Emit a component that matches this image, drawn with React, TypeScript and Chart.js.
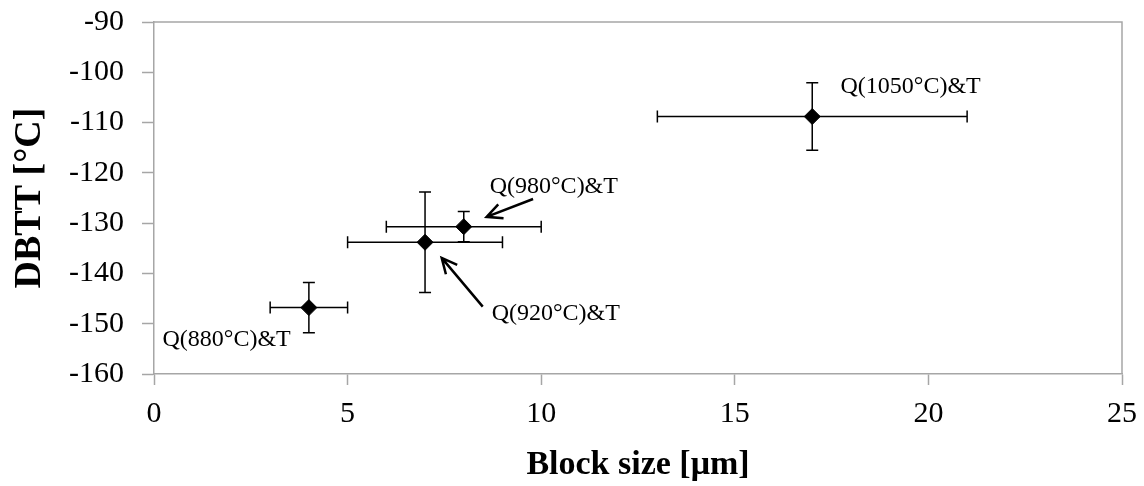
import React, { useEffect, useRef } from "react";
import { Chart, registerables } from "chart.js";

Chart.register(...registerables);

// ---- data ----
const blockSize = [4, 7, 8, 17];
const dbtt = [-146.8, -133.8, -130.7, -108.8];
const blockErr = [1, 2, 2, 4];
const dbttErr = [5, 10, 3, 6.7];

const labelTexts = ["Q(880°C)&T", "Q(920°C)&T", "Q(980°C)&T", "Q(1050°C)&T"];
const labelX = [0.22, 8.72, 8.67, 17.73];
const labelY = [-153.2, -148.1, -122.8, -102.8];

// arrows: tail -> tip
const arrowTailX = [9.79, 8.49];
const arrowTailY = [-125.2, -146.6];
const arrowTipX = [8.59, 7.43];
const arrowTipY = [-128.75, -136.9];

const xTickMin = 0;
const xTickMax = 25;
const xTickStep = 5;
const yTickMin = -160;
const yTickMax = -90;
const yTickStep = 10;

const FONT = '"Liberation Serif", "Times New Roman", serif';
const AXIS_GRAY = "#a6a6a6";

const overlayPlugin = {
  id: "overlay",
  beforeDatasetsDraw(chart: any) {
    const ctx = chart.ctx;
    const xs = chart.scales.x;
    const ys = chart.scales.y;
    ctx.save();
    ctx.strokeStyle = "#000";
    ctx.lineWidth = 1.5;
    const cap = 6;
    for (let i = 0; i < blockSize.length; i++) {
      const cx = xs.getPixelForValue(blockSize[i]);
      const cy = ys.getPixelForValue(dbtt[i]);
      const x0 = xs.getPixelForValue(blockSize[i] - blockErr[i]);
      const x1 = xs.getPixelForValue(blockSize[i] + blockErr[i]);
      const y0 = ys.getPixelForValue(dbtt[i] + dbttErr[i]);
      const y1 = ys.getPixelForValue(dbtt[i] - dbttErr[i]);
      ctx.beginPath();
      ctx.moveTo(x0, cy);
      ctx.lineTo(x1, cy);
      ctx.moveTo(x0, cy - cap);
      ctx.lineTo(x0, cy + cap);
      ctx.moveTo(x1, cy - cap);
      ctx.lineTo(x1, cy + cap);
      ctx.moveTo(cx, y0);
      ctx.lineTo(cx, y1);
      ctx.moveTo(cx - cap, y0);
      ctx.lineTo(cx + cap, y0);
      ctx.moveTo(cx - cap, y1);
      ctx.lineTo(cx + cap, y1);
      ctx.stroke();
    }
    ctx.restore();
  },
  afterDraw(chart: any) {
    const ctx = chart.ctx;
    const xs = chart.scales.x;
    const ys = chart.scales.y;
    const area = chart.chartArea;
    ctx.save();
    // top and right border of the plot area
    ctx.strokeStyle = AXIS_GRAY;
    ctx.lineWidth = 1.5;
    ctx.beginPath();
    ctx.moveTo(area.left, area.top);
    ctx.lineTo(area.right, area.top);
    ctx.lineTo(area.right, area.bottom);
    ctx.stroke();

    // point labels
    ctx.fillStyle = "#000";
    ctx.font = `24px ${FONT}`;
    ctx.textAlign = "left";
    ctx.textBaseline = "middle";
    for (let i = 0; i < labelTexts.length; i++) {
      ctx.fillText(labelTexts[i], xs.getPixelForValue(labelX[i]), ys.getPixelForValue(labelY[i]));
    }

    // arrows
    ctx.strokeStyle = "#000";
    ctx.lineWidth = 2.5;
    for (let i = 0; i < arrowTailX.length; i++) {
      const tx = xs.getPixelForValue(arrowTailX[i]);
      const ty = ys.getPixelForValue(arrowTailY[i]);
      const hx = xs.getPixelForValue(arrowTipX[i]);
      const hy = ys.getPixelForValue(arrowTipY[i]);
      const ang = Math.atan2(hy - ty, hx - tx);
      const L = 17;
      const spread = Math.PI / 7;
      ctx.beginPath();
      ctx.moveTo(tx, ty);
      ctx.lineTo(hx, hy);
      ctx.moveTo(hx - L * Math.cos(ang - spread), hy - L * Math.sin(ang - spread));
      ctx.lineTo(hx, hy);
      ctx.lineTo(hx - L * Math.cos(ang + spread), hy - L * Math.sin(ang + spread));
      ctx.stroke();
    }
    ctx.restore();
  },
};

export default function App() {
  const ref = useRef<HTMLCanvasElement | null>(null);
  useEffect(() => {
    if (!ref.current) return;
    const chart = new Chart(ref.current, {
      type: "scatter",
      data: {
        datasets: [
          {
            data: blockSize.map((x, i) => ({ x, y: dbtt[i] })),
            pointStyle: "rectRot",
            pointRadius: 8,
            pointHoverRadius: 8,
            backgroundColor: "#000",
            borderColor: "#000",
            borderWidth: 1,
          },
        ],
      },
      options: {
        animation: false,
        responsive: true,
        maintainAspectRatio: false,
        layout: { padding: { top: 22, right: 22, left: 0, bottom: 0 } },
        plugins: { legend: { display: false }, tooltip: { enabled: false } },
        scales: {
          x: {
            type: "linear",
            min: xTickMin,
            max: xTickMax,
            afterFit: (s: any) => {
              s.height = 112;
              s.paddingLeft = 0;
              s.paddingRight = 0;
            },
            ticks: {
              stepSize: xTickStep,
              color: "#000",
              padding: 11,
              font: { family: FONT, size: 30 },
              maxRotation: 0,
            },
            grid: {
              drawOnChartArea: false,
              drawTicks: true,
              tickLength: 11,
              tickColor: AXIS_GRAY,
              tickWidth: 1.5,
            },
            border: { color: AXIS_GRAY, width: 1.5 },
            title: {
              display: true,
              text: "Block size [μm]",
              color: "#000",
              font: { family: FONT, size: 34, weight: "bold" },
              padding: { top: 0, bottom: 0 },
            },
          },
          y: {
            type: "linear",
            min: yTickMin,
            max: yTickMax,
            afterFit: (s: any) => {
              s.width = 154;
              s.paddingTop = 0;
              s.paddingBottom = 0;
            },
            ticks: {
              stepSize: yTickStep,
              color: "#000",
              padding: 18,
              font: { family: FONT, size: 30 },
            },
            grid: {
              drawOnChartArea: false,
              drawTicks: true,
              tickLength: 12,
              tickColor: AXIS_GRAY,
              tickWidth: 1.5,
            },
            border: { color: AXIS_GRAY, width: 1.5 },
            title: {
              display: true,
              text: "DBTT [°C]",
              color: "#000",
              font: { family: FONT, size: 38, weight: "bold" },
              padding: { top: 7, bottom: 0 },
            },
          },
        },
      },
      plugins: [overlayPlugin],
    });
    return () => chart.destroy();
  }, []);
  return (
    <div style={{ position: "fixed", left: 0, top: 0, width: 1144, height: 486, background: "#fff" }}>
      <canvas ref={ref} />
    </div>
  );
}
